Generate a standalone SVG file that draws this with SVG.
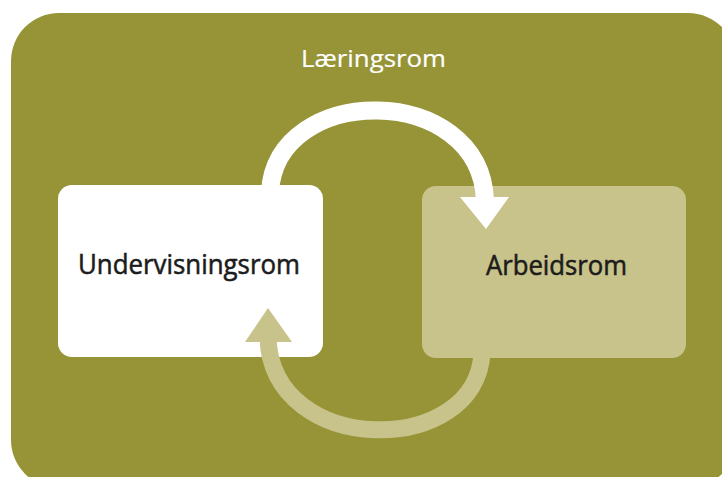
<svg xmlns="http://www.w3.org/2000/svg" width="722" height="477" viewBox="0 0 722 477">
<defs>
<style>
.lbl{font-family:"Open Sans","DejaVu Sans",sans-serif;text-anchor:middle;font-weight:400}
.dark{fill:#1c1c1c;stroke:#1c1c1c;stroke-width:0.55}
.light{fill:#c8c38a}
.arc{fill:none}
</style>
</defs>
<rect x="0" y="0" width="722" height="477" fill="#ffffff"/>
<g id="laeringsrom">
<rect x="11" y="13" width="725" height="475" rx="48" ry="48" fill="#969437"/>
<text class="lbl" x="373.5" y="67" font-size="23" fill="#ffffff" stroke="#ffffff" stroke-width="0.2" textLength="145" lengthAdjust="spacingAndGlyphs">Læringsrom</text>
</g>
<g id="undervisningsrom">
<rect x="58" y="185" width="265" height="172" rx="14" ry="14" fill="#ffffff"/>
<text class="lbl dark" x="189" y="274" font-size="27" textLength="222" lengthAdjust="spacingAndGlyphs">Undervisningsrom</text>
</g>
<g id="arbeidsrom">
<rect x="422" y="186" width="264" height="172" rx="14" ry="14" fill="#c8c38a"/>
<text class="lbl dark" x="556.5" y="275" font-size="27" textLength="141" lengthAdjust="spacingAndGlyphs">Arbeidsrom</text>
</g>
<g id="connectors">
<path class="arc" d="M 270 192 C 276 82, 480 82, 485 200" stroke="#ffffff" stroke-width="18"/>
<polygon points="460,197 509,197 486,229" fill="#ffffff"/>
<path class="arc" d="M 482 352 C 478 458, 272 458, 268 338" stroke="#c8c38a" stroke-width="17"/>
<polygon class="light" points="245,342 292,342 268,308"/>
</g>
</svg>
